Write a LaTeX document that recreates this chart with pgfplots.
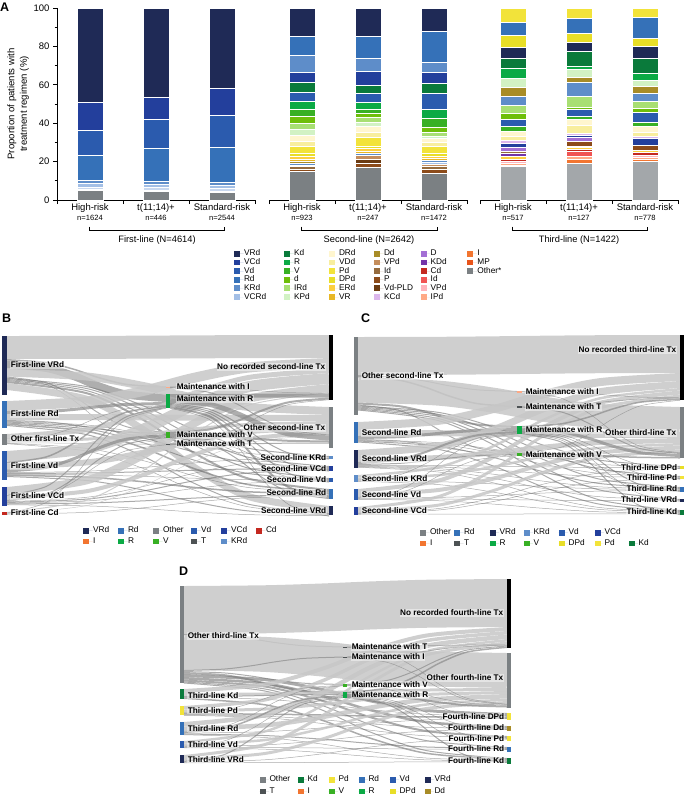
\documentclass[border=0pt]{standalone}
\usepackage{fontspec}
\setmainfont{Liberation Sans}
\usepackage{pgfplots}
\pgfplotsset{compat=1.18}
\definecolor{cVRd}{HTML}{1F2A56}
\definecolor{cVCd}{HTML}{233F9C}
\definecolor{cVd}{HTML}{2B5BAE}
\definecolor{cRd}{HTML}{3571B8}
\definecolor{cKRd}{HTML}{5E8DC9}
\definecolor{cVCRd}{HTML}{A3BFE6}
\definecolor{cKd}{HTML}{0A7A3B}
\definecolor{cR}{HTML}{0BAA45}
\definecolor{cV}{HTML}{38B024}
\definecolor{cd}{HTML}{6EBE0A}
\definecolor{cIRd}{HTML}{A8DF73}
\definecolor{cKPd}{HTML}{D2F2C4}
\definecolor{cDRd}{HTML}{FFF6CF}
\definecolor{cVDd}{HTML}{F8EE9E}
\definecolor{cPd}{HTML}{F2E33A}
\definecolor{cDPd}{HTML}{E8DE27}
\definecolor{cERd}{HTML}{FCCF40}
\definecolor{cVR}{HTML}{E8B725}
\definecolor{cDd}{HTML}{A88C27}
\definecolor{cVPdT}{HTML}{C48D5C}
\definecolor{cIdB}{HTML}{956B3E}
\definecolor{cP}{HTML}{8C4B1A}
\definecolor{cVdPLD}{HTML}{6B3B12}
\definecolor{cKCd}{HTML}{DCB7EC}
\definecolor{cD}{HTML}{A36FD4}
\definecolor{cKDd}{HTML}{7334A8}
\definecolor{cCd}{HTML}{C4281F}
\definecolor{cIdR}{HTML}{F05454}
\definecolor{cVPdP}{HTML}{FFB4BC}
\definecolor{cIPd}{HTML}{FFA985}
\definecolor{cI}{HTML}{F27530}
\definecolor{cMP}{HTML}{E8541A}
\definecolor{cOth}{HTML}{7B8083}
\definecolor{cOthL}{HTML}{A3A7AA}
\definecolor{cT}{HTML}{4D5254}
\definecolor{cLB}{HTML}{C9D8EF}

\newcommand\seg[3]{\addplot[ybar,bar width=26pt,bar shift=0pt,fill=#3,draw=white,line width=0.25pt] coordinates {(#1,#2)};}
\newcommand\lw[2]{\makebox[#1pt][l]{#2}}
\newcommand\leg[3]{\addlegendimage{fill=#1}\addlegendentry{\lw{#2}{#3}}}
\newcommand\legempty{\addlegendimage{empty legend}\addlegendentry{}}

% Sankey helpers
\newcommand\defnode[4]{%
  \expandafter\xdef\csname sxi#1\endcsname{#2}%
  \expandafter\xdef\csname sxo#1\endcsname{#3}%
  \expandafter\xdef\csname syi#1\endcsname{#4}%
  \expandafter\xdef\csname syo#1\endcsname{#4}}
\newcommand\flow[4][fL]{%
  \edef\srcx{\csname sxo#2\endcsname}\edef\srcy{\csname syo#2\endcsname}%
  \edef\dstx{\csname sxi#3\endcsname}\edef\dsty{\csname syi#3\endcsname}%
  \pgfmathsetmacro\fxa{\srcx}\pgfmathsetmacro\fya{\srcy+0.5*#4}%
  \pgfmathsetmacro\fxb{\dstx}\pgfmathsetmacro\fyb{\dsty+0.5*#4}%
  \pgfmathsetmacro\fdx{\fxb-\fxa}\pgfmathsetmacro\fdy{\fyb-\fya}%
  \pgfmathsetmacro\xB{\fxa+0.248*\fdx}\pgfmathsetmacro\yB{\fya+0.104*\fdy}%
  \pgfmathsetmacro\xC{\fxa+0.424*\fdx}\pgfmathsetmacro\yC{\fya+0.352*\fdy}%
  \pgfmathsetmacro\xD{\fxa+0.576*\fdx}\pgfmathsetmacro\yD{\fya+0.648*\fdy}%
  \pgfmathsetmacro\xE{\fxa+0.752*\fdx}\pgfmathsetmacro\yE{\fya+0.896*\fdy}%
  \pgfmathsetmacro\tmpa{\srcy+#4}\expandafter\xdef\csname syo#2\endcsname{\tmpa}%
  \pgfmathsetmacro\tmpb{\dsty+#4}\expandafter\xdef\csname syi#3\endcsname{\tmpb}%
  \edef\flowcmd{\noexpand\addplot[\unexpanded{#1},line width=#4pt] coordinates {(\fxa,\fya) (\xB,\yB) (\xC,\yC) (\xD,\yD) (\xE,\yE) (\fxb,\fyb)};}%
  \flowcmd}
\newcommand\nbar[5]{\addplot[no markers,line width=#5pt,color=#4] coordinates {(#1,#2) (#1,#3)};}

\pgfplotsset{
  fL/.style={no markers,smooth,color=black!22,opacity=0.85,line cap=butt},
  fM/.style={no markers,smooth,color=black!45,opacity=0.7,line cap=butt},
  fD/.style={no markers,smooth,color=black!55,opacity=0.6,line cap=butt},
  legsq/.style={legend image code/.code={\fill[draw=none,##1] (0pt,-2.9pt) rectangle (6pt,2.9pt); \path[draw=none] (0pt,0pt) -- (9.5pt,0pt);}},
  legax/.style={anchor=north west, hide axis, scale only axis, width=5pt, height=5pt,
    xmin=0,xmax=1,ymin=0,ymax=1, legsq, legend cell align=left,
    legend style={at={(0,1)}, anchor=north west, draw=none, fill=none, inner sep=0pt, outer sep=0pt,
      font=\fontsize{8.3}{8.5}\selectfont,
      nodes={inner xsep=0.5pt, inner ysep=0pt, text height=5.9pt, text depth=1.6pt},
      /tikz/every even column/.append style={column sep=0pt}}},
  grpA/.style={anchor=south west, scale only axis, width=198pt, height=192pt,
    xmin=-0.5, xmax=2.5, ymin=0, ymax=100, enlargelimits=false, clip=false,
    axis x line*=bottom, axis line style={line width=0.7pt,-},
    xtick={-0.5,0.5,1.5,2.5}, xticklabels={},
    extra x ticks={0,1,2},
    extra x tick style={major tick length=0pt, tick label style={align=center}},
    tick align=outside, major tick length=4pt, minor tick length=2.5pt,
    tick style={line width=0.7pt, black},
    tick label style={font=\fontsize{9.5}{10}\selectfont},
    /pgf/number format/assume math mode=true},
}
\tikzset{lab/.style={font=\bfseries\fontsize{8.2}{8.5}\selectfont, inner sep=0.6pt, fill=white, fill opacity=0.45, text opacity=1}}
\newcommand\nlab{\fontsize{7.6}{8}\selectfont}

\begin{document}
\begin{tikzpicture}
\useasboundingbox (0pt,0pt) rectangle (685pt,-794pt);

% ---------------- Panel A: group 1 ----------------
\begin{axis}[grpA, at={(57pt,-200pt)}, axis y line*=left,
  extra x tick labels={{High-risk\\[0.5pt]\nlab n=1624},{t(11;14)+\\[0.5pt]\nlab n=446},{Standard-risk\\[0.5pt]\nlab n=2544}},
  ytick={0,20,...,100}, minor y tick num=1,
  ylabel={Proportion of patients with\\treatment regimen (\%)},
  ylabel style={align=center, font=\fontsize{9.6}{12.5}\selectfont, yshift=-2pt}]
\seg{0}{100}{cVRd}\seg{0}{50.9}{cVCd}\seg{0}{36.5}{cVd}\seg{0}{23.4}{cRd}\seg{0}{10.4}{cKRd}\seg{0}{8.7}{cVCRd}\seg{0}{6.9}{cLB}\seg{0}{5.6}{cDRd}\seg{0}{4.9}{cOth}
\seg{1}{100}{cVRd}\seg{1}{53.8}{cVCd}\seg{1}{42.2}{cVd}\seg{1}{26.9}{cRd}\seg{1}{9.9}{cKRd}\seg{1}{8.2}{cVCRd}\seg{1}{6.6}{cLB}\seg{1}{5.2}{cDRd}\seg{1}{4.8}{cOth}
\seg{2}{100}{cVRd}\seg{2}{58.2}{cVCd}\seg{2}{44.3}{cVd}\seg{2}{27.3}{cRd}\seg{2}{9.5}{cKRd}\seg{2}{8.0}{cVCRd}\seg{2}{6.3}{cLB}\seg{2}{4.8}{cDRd}\seg{2}{4.3}{cOth}
\end{axis}

% ---------------- Panel A: group 2 ----------------
\begin{axis}[grpA, at={(269pt,-200pt)}, axis y line=none, ytick=\empty,
  extra x tick labels={{High-risk\\[0.5pt]\nlab n=923},{t(11;14)+\\[0.5pt]\nlab n=247},{Standard-risk\\[0.5pt]\nlab n=1472}}]
\seg{0}{100}{cVRd}\seg{0}{85.6}{cRd}\seg{0}{75.5}{cKRd}\seg{0}{66.8}{cVCd}\seg{0}{61.3}{cKd}\seg{0}{56.4}{cVd}\seg{0}{51.6}{cR}\seg{0}{47.2}{cV}\seg{0}{43.75}{cd}\seg{0}{39.9}{cIRd}\seg{0}{36.8}{cKPd}\seg{0}{33.9}{cDRd}\seg{0}{30.9}{cVDd}\seg{0}{27.8}{cPd}\seg{0}{24.6}{cDPd}\seg{0}{22.6}{cERd}\seg{0}{21.2}{cVR}\seg{0}{20.1}{cDd}\seg{0}{19.4}{cKRd}\seg{0}{18.4}{cVPdT}\seg{0}{17.4}{cIdB}\seg{0}{16.0}{cP}\seg{0}{14.8}{cOth}
\seg{1}{100}{cVRd}\seg{1}{85.4}{cRd}\seg{1}{73.8}{cKRd}\seg{1}{67.2}{cVCd}\seg{1}{59.9}{cKd}\seg{1}{55.6}{cVd}\seg{1}{51.2}{cR}\seg{1}{47.4}{cV}\seg{1}{45.5}{cd}\seg{1}{43.1}{cIRd}\seg{1}{40.3}{cKPd}\seg{1}{38.7}{cDRd}\seg{1}{35.6}{cVDd}\seg{1}{33.0}{cPd}\seg{1}{28.3}{cDPd}\seg{1}{26.9}{cERd}\seg{1}{25.2}{cVR}\seg{1}{24.3}{cKRd}\seg{1}{23.3}{cVPdT}\seg{1}{21.2}{cVdPLD}\seg{1}{19.4}{cP}\seg{1}{17.0}{cOth}
\seg{2}{100}{cVRd}\seg{2}{87.7}{cRd}\seg{2}{72.0}{cKRd}\seg{2}{66.8}{cVCd}\seg{2}{60.8}{cKd}\seg{2}{55.9}{cVd}\seg{2}{47.2}{cR}\seg{2}{42.5}{cV}\seg{2}{37.7}{cd}\seg{2}{35.2}{cIRd}\seg{2}{33.5}{cKPd}\seg{2}{32.1}{cDRd}\seg{2}{30.4}{cVDd}\seg{2}{27.8}{cPd}\seg{2}{24.6}{cDPd}\seg{2}{22.9}{cERd}\seg{2}{21.7}{cVR}\seg{2}{20.8}{cKRd}\seg{2}{19.6}{cVCRd}\seg{2}{18.5}{cVPdT}\seg{2}{17.4}{cIdB}\seg{2}{16.2}{cP}\seg{2}{14.0}{cOth}
\end{axis}

% ---------------- Panel A: group 3 ----------------
\begin{axis}[grpA, at={(480pt,-200pt)}, axis y line=none, ytick=\empty,
  extra x tick labels={{High-risk\\[0.5pt]\nlab n=517},{t(11;14)+\\[0.5pt]\nlab n=127},{Standard-risk\\[0.5pt]\nlab n=778}}]
\seg{0}{100}{cPd}\seg{0}{92.9}{cRd}\seg{0}{85.9}{cDPd}\seg{0}{79.7}{cVRd}\seg{0}{73.8}{cKd}\seg{0}{68.6}{cR}\seg{0}{63.4}{cKPd}\seg{0}{59.0}{cDd}\seg{0}{54.2}{cKRd}\seg{0}{49.5}{cIRd}\seg{0}{45.5}{cd}\seg{0}{42.2}{cVd}\seg{0}{38.5}{cV}\seg{0}{36.1}{cDRd}\seg{0}{33.5}{cVDd}\seg{0}{31.25}{cKCd}\seg{0}{29.5}{cVCd}\seg{0}{27.3}{cD}\seg{0}{25.7}{cIdB}\seg{0}{24.3}{cKDd}\seg{0}{22.6}{cERd}\seg{0}{21.5}{cCd}\seg{0}{20.5}{cVPdP}\seg{0}{19.4}{cIPd}\seg{0}{18.4}{cI}\seg{0}{17.4}{cOthL}
\seg{1}{100}{cPd}\seg{1}{94.6}{cRd}\seg{1}{86.8}{cDPd}\seg{1}{82.1}{cVRd}\seg{1}{77.6}{cKd}\seg{1}{69.8}{cR}\seg{1}{68.0}{cKPd}\seg{1}{64.2}{cDd}\seg{1}{61.6}{cKRd}\seg{1}{54.2}{cIRd}\seg{1}{48.3}{cd}\seg{1}{47.4}{cVd}\seg{1}{43.75}{cV}\seg{1}{42.2}{cDRd}\seg{1}{39.1}{cVDd}\seg{1}{34.7}{cKCd}\seg{1}{33.9}{cVCd}\seg{1}{32.5}{cD}\seg{1}{30.7}{cP}\seg{1}{28.1}{cKDd}\seg{1}{27.3}{cERd}\seg{1}{26.4}{cCd}\seg{1}{25.5}{cIdR}\seg{1}{22.6}{cIPd}\seg{1}{21.2}{cI}\seg{1}{19.4}{cOthL}
\seg{2}{100}{cPd}\seg{2}{95.5}{cRd}\seg{2}{84.5}{cDPd}\seg{2}{80.2}{cVRd}\seg{2}{74.1}{cKd}\seg{2}{66.0}{cR}\seg{2}{62.5}{cKPd}\seg{2}{59.5}{cDd}\seg{2}{55.6}{cKRd}\seg{2}{51.7}{cIRd}\seg{2}{48.1}{cd}\seg{2}{45.7}{cVd}\seg{2}{40.8}{cV}\seg{2}{38.5}{cDRd}\seg{2}{35.6}{cVDd}\seg{2}{33.3}{cKCd}\seg{2}{32.1}{cVCd}\seg{2}{28.6}{cP}\seg{2}{26.0}{cERd}\seg{2}{24.8}{cCd}\seg{2}{23.4}{cVPdP}\seg{2}{22.2}{cIPd}\seg{2}{21.4}{cI}\seg{2}{20.0}{cOthL}
\end{axis}

% ---------------- Legend A ----------------
\begin{axis}[legax, at={(234pt,-250pt)}, legend columns=6, legend style={row sep=1.15pt}]
\leg{cVRd}{39.5}{VRd}\leg{cKd}{34.5}{Kd}\leg{cDRd}{34.5}{DRd}\leg{cDd}{36.2}{Dd}\leg{cD}{36.2}{D}\leg{cI}{30}{I}
\leg{cVCd}{39.5}{VCd}\leg{cR}{34.5}{R}\leg{cVDd}{34.5}{VDd}\leg{cVPdT}{36.2}{VPd}\leg{cKDd}{36.2}{KDd}\leg{cMP}{30}{MP}
\leg{cVd}{39.5}{Vd}\leg{cV}{34.5}{V}\leg{cPd}{34.5}{Pd}\leg{cIdB}{36.2}{Id}\leg{cCd}{36.2}{Cd}\leg{cOth}{30}{Other*}
\leg{cRd}{39.5}{Rd}\leg{cd}{34.5}{d}\leg{cDPd}{34.5}{DPd}\leg{cP}{36.2}{P}\leg{cIdR}{36.2}{Id}\legempty
\leg{cKRd}{39.5}{KRd}\leg{cIRd}{34.5}{IRd}\leg{cERd}{34.5}{ERd}\leg{cVdPLD}{36.2}{Vd-PLD}\leg{cVPdP}{36.2}{VPd}\legempty
\leg{cVCRd}{39.5}{VCRd}\leg{cKPd}{34.5}{KPd}\leg{cVR}{34.5}{VR}\leg{cKCd}{36.2}{KCd}\leg{cIPd}{36.2}{IPd}
\end{axis}

% ---------------- Legend B ----------------
\begin{axis}[legax, at={(83pt,-527pt)}, legend columns=6, legend style={row sep=3.3pt}]
\leg{cVRd}{24.5}{VRd}\leg{cRd}{24.5}{Rd}\leg{cOth}{27.5}{Other}\leg{cVd}{19.5}{Vd}\leg{cVCd}{24.5}{VCd}\leg{cCd}{20}{Cd}
\leg{cI}{24.5}{I}\leg{cR}{24.5}{R}\leg{cV}{27.5}{V}\leg{cT}{19.5}{T}\leg{cKRd}{24.5}{KRd}
\end{axis}

% ---------------- Legend C ----------------
\begin{axis}[legax, at={(420pt,-529pt)}, legend columns=7, legend style={row sep=3.3pt}]
\leg{cOth}{23.5}{Other}\leg{cRd}{25}{Rd}\leg{cVRd}{23.5}{VRd}\leg{cKRd}{24.5}{KRd}\leg{cVd}{25.5}{Vd}\leg{cVCd}{23.5}{VCd}\legempty
\leg{cI}{23.5}{I}\leg{cT}{25}{T}\leg{cR}{23.5}{R}\leg{cV}{24.5}{V}\leg{cDPd}{25.5}{DPd}\leg{cPd}{23.5}{Pd}\leg{cKd}{20}{Kd}
\end{axis}

% ---------------- Legend D ----------------
\begin{axis}[legax, at={(259.5pt,-776pt)}, legend columns=6, legend style={row sep=4.2pt}]
\leg{cOth}{27.5}{Other}\leg{cKd}{20.5}{Kd}\leg{cPd}{19.5}{Pd}\leg{cRd}{20.5}{Rd}\leg{cVd}{24.5}{Vd}\leg{cVRd}{20}{VRd}
\leg{cT}{27.5}{T}\leg{cI}{20.5}{I}\leg{cV}{19.5}{V}\leg{cR}{20.5}{R}\leg{cDPd}{24.5}{DPd}\leg{cDd}{20}{Dd}
\end{axis}

% ---------------- Canvas: panels B, C, D and annotations ----------------
\begin{axis}[at={(0pt,0pt)}, anchor=north west, scale only axis, x=1pt, y=1pt,
  xmin=0, xmax=685, ymin=0, ymax=794, y dir=reverse, hide axis, clip=false]

% ===== Panel B =====
\defnode{bL1}{0}{7}{336}\defnode{bL2}{0}{7}{401}\defnode{bL3}{0}{7}{434}
\defnode{bL4}{0}{7}{451}\defnode{bL5}{0}{7}{487}\defnode{bL6}{0}{7}{512}
\defnode{bMI}{166}{170}{386.5}\defnode{bMR}{166}{170}{394}\defnode{bMV}{166}{170}{432}\defnode{bMT}{166}{170}{443.5}
\defnode{bRN}{329}{333}{335}\defnode{bRO}{329}{333}{407}\defnode{bRK}{329}{333}{456}\defnode{bRC}{329}{333}{466}
\defnode{bRV}{329}{333}{478}\defnode{bRR}{329}{333}{489}\defnode{bRW}{329}{333}{506}
\flow{bL1}{bRN}{23}\flow[fM]{bL1}{bMI}{1.5}\flow[fM]{bL1}{bMR}{8}\flow{bL1}{bRO}{8}\flow[fM]{bL1}{bMV}{1}\flow[fM]{bL1}{bMT}{0.5}
\flow[fD]{bL1}{bRK}{1}\flow[fD]{bL1}{bRC}{1}\flow[fD]{bL1}{bRV}{1}\flow[fD]{bL1}{bRR}{2}\flow{bL1}{bRW}{7}
\flow{bL2}{bRN}{10}\flow[fM]{bL2}{bMR}{3}\flow{bL2}{bRO}{6}\flow[fM]{bL2}{bMV}{1}\flow[fD]{bL2}{bRK}{0.5}\flow[fD]{bL2}{bRC}{1}\flow[fD]{bL2}{bRV}{1}\flow[fD]{bL2}{bRR}{1.5}\flow[fD]{bL2}{bRW}{1}
\flow{bL3}{bRN}{5}\flow[fM]{bL3}{bMR}{0.5}\flow{bL3}{bRO}{3}\flow[fM]{bL3}{bMT}{0.5}\flow[fD]{bL3}{bRR}{0.5}\flow[fD]{bL3}{bRW}{0.5}
\flow{bL4}{bRN}{11}\flow[fM]{bL4}{bMR}{1.5}\flow{bL4}{bRO}{6}\flow[fM]{bL4}{bMV}{3}\flow[fD]{bL4}{bRK}{0.5}\flow[fD]{bL4}{bRC}{1}\flow[fD]{bL4}{bRV}{0.5}\flow[fD]{bL4}{bRR}{1.5}\flow[fD]{bL4}{bRW}{1}
\flow{bL5}{bRN}{8}\flow[fM]{bL5}{bMR}{1}\flow{bL5}{bRO}{4}\flow[fM]{bL5}{bMV}{1}\flow[fM]{bL5}{bMT}{0.5}\flow[fD]{bL5}{bRK}{0.5}\flow[fD]{bL5}{bRC}{1}\flow[fD]{bL5}{bRV}{0.5}\flow[fD]{bL5}{bRR}{1}\flow[fD]{bL5}{bRW}{0.5}
\flow{bL6}{bRN}{1}\flow[fM]{bL6}{bMR}{0.5}\flow{bL6}{bRO}{0.5}\flow[fD]{bL6}{bRR}{0.5}
\flow[fM]{bMI}{bRN}{0.5}\flow[fM]{bMI}{bRO}{1}
\flow[fM]{bMR}{bRN}{4}\flow[fM]{bMR}{bRO}{5}\flow[fD]{bMR}{bRK}{1}\flow[fD]{bMR}{bRC}{1}\flow[fD]{bMR}{bRV}{1}\flow[fD]{bMR}{bRR}{2}\flow[fD]{bMR}{bRW}{0.5}
\flow[fM]{bMV}{bRN}{2}\flow[fM]{bMV}{bRO}{2}\flow[fD]{bMV}{bRC}{0.5}\flow[fD]{bMV}{bRV}{0.5}\flow[fD]{bMV}{bRR}{1}
\flow[fM]{bMT}{bRN}{0.5}\flow[fM]{bMT}{bRO}{1}
\nbar{4.5}{336}{395}{cVRd}{5}\nbar{4.5}{401}{428}{cRd}{5}\nbar{4.5}{434}{445}{cOth}{5}
\nbar{4.5}{451}{480}{cVd}{5}\nbar{4.5}{487}{506}{cVCd}{5}\nbar{4.5}{512}{514.5}{cCd}{5}
\nbar{168}{386.5}{388}{cIPd}{4}\nbar{168}{394}{408}{cR}{4}\nbar{168}{432}{438}{cV}{4}\nbar{168}{443.5}{445}{cT}{4}
\nbar{331}{335}{400}{black}{4}\nbar{331}{407}{448}{cOth}{4}\nbar{331}{456}{459}{cKRd}{4}\nbar{331}{466}{471}{cVCd}{4}
\nbar{331}{478}{482}{cVd}{4}\nbar{331}{489}{499}{cRd}{4}\nbar{331}{506}{515}{cVRd}{4}

% ===== Panel C =====
\defnode{cL1}{354}{358}{337}\defnode{cL2}{354}{358}{422}\defnode{cL3}{354}{358}{450}
\defnode{cL4}{354}{358}{475}\defnode{cL5}{354}{358}{489}\defnode{cL6}{354}{358}{507}
\defnode{cMI}{517}{521.5}{391}\defnode{cMT}{517}{521.5}{406}\defnode{cMR}{517}{521.5}{426}\defnode{cMV}{517}{521.5}{452.5}
\defnode{cRN}{680}{684}{335}\defnode{cRO}{680}{684}{407}\defnode{cRA}{680}{684}{466}\defnode{cRP}{680}{684}{476}
\defnode{cRR}{680}{684}{487}\defnode{cRW}{680}{684}{499}\defnode{cRK}{680}{684}{510}
\flow{cL1}{cRN}{38}\flow[fM]{cL1}{cMI}{1}\flow[fM]{cL1}{cMT}{1.5}\flow{cL1}{cRO}{25}\flow[fM]{cL1}{cMR}{2}\flow[fM]{cL1}{cMV}{1}
\flow[fD]{cL1}{cRA}{1}\flow[fD]{cL1}{cRP}{1}\flow[fD]{cL1}{cRR}{1}\flow[fD]{cL1}{cRW}{1}\flow[fD]{cL1}{cRK}{1}
\flow{cL2}{cRN}{8}\flow{cL2}{cRO}{6}\flow[fM]{cL2}{cMR}{3}\flow[fM]{cL2}{cMV}{0.5}\flow[fD]{cL2}{cRA}{0.5}\flow[fD]{cL2}{cRP}{0.5}\flow[fD]{cL2}{cRR}{1}\flow[fD]{cL2}{cRK}{1}
\flow{cL3}{cRN}{7}\flow{cL3}{cRO}{5}\flow[fM]{cL3}{cMR}{2}\flow[fM]{cL3}{cMV}{1}\flow[fD]{cL3}{cRA}{0.5}\flow[fD]{cL3}{cRP}{0.5}\flow[fD]{cL3}{cRR}{0.5}\flow[fD]{cL3}{cRW}{0.5}\flow[fD]{cL3}{cRK}{0.5}
\flow{cL4}{cRN}{2.5}\flow{cL4}{cRO}{2.5}\flow[fM]{cL4}{cMR}{0.5}\flow[fD]{cL4}{cRR}{0.5}\flow[fD]{cL4}{cRK}{0.5}
\flow{cL5}{cRN}{4}\flow{cL5}{cRO}{4}\flow[fM]{cL5}{cMR}{0.5}\flow[fM]{cL5}{cMV}{0.5}\flow[fD]{cL5}{cRR}{0.5}\flow[fD]{cL5}{cRW}{0.5}\flow[fD]{cL5}{cRK}{0.5}
\flow{cL6}{cRN}{3}\flow{cL6}{cRO}{3}\flow[fD]{cL6}{cRA}{0.5}\flow[fD]{cL6}{cRP}{0.5}\flow[fD]{cL6}{cRK}{0.5}
\flow[fM]{cMI}{cRN}{0.5}\flow[fM]{cMI}{cRO}{0.5}
\flow[fM]{cMT}{cRN}{0.5}\flow[fM]{cMT}{cRO}{1}
\flow[fM]{cMR}{cRN}{1.5}\flow[fM]{cMR}{cRO}{3}\flow[fD]{cMR}{cRA}{0.5}\flow[fD]{cMR}{cRP}{0.5}\flow[fD]{cMR}{cRR}{1}\flow[fD]{cMR}{cRW}{0.5}\flow[fD]{cMR}{cRK}{1}
\flow[fM]{cMV}{cRN}{0.5}\flow[fM]{cMV}{cRO}{1.5}\flow[fD]{cMV}{cRP}{0.5}\flow[fD]{cMV}{cRR}{0.5}
\nbar{356}{337}{415}{cOth}{4}\nbar{356}{422}{443}{cRd}{4}\nbar{356}{450}{468}{cVRd}{4}
\nbar{356}{475}{482}{cKRd}{4}\nbar{356}{489}{500}{cVd}{4}\nbar{356}{507}{515}{cVCd}{4}
\nbar{519.3}{391}{392.5}{cIPd}{4.5}\nbar{519.3}{406}{407.5}{cT}{4.5}\nbar{519.3}{426}{434}{cR}{4.5}\nbar{519.3}{452.5}{455.5}{cV}{4.5}
\nbar{682}{335}{400}{black}{4}\nbar{682}{407}{458}{cOth}{4}\nbar{682}{466}{469}{cDPd}{4}\nbar{682}{476}{479}{cPd}{4}
\nbar{682}{487}{492}{cRd}{4}\nbar{682}{499}{502}{cVRd}{4}\nbar{682}{510}{515}{cKd}{4}

% ===== Panel D =====
\defnode{dL1}{180}{184}{586}\defnode{dL2}{180}{184}{689}\defnode{dL3}{180}{184}{706}
\defnode{dL4}{180}{184}{722}\defnode{dL5}{180}{184}{741}\defnode{dL6}{180}{184}{755}
\defnode{dMT}{343}{347}{646.5}\defnode{dMI}{343}{347}{656.5}\defnode{dMV}{343}{347}{684}\defnode{dMR}{343}{347}{692}
\defnode{dRN}{507}{511}{579}\defnode{dRO}{507}{511}{653}\defnode{dRA}{507}{511}{713}\defnode{dRD}{507}{511}{726}
\defnode{dRP}{507}{511}{736}\defnode{dRR}{507}{511}{747}\defnode{dRK}{507}{511}{758}
\flow{dL1}{dRN}{48}\flow[fM]{dL1}{dMT}{1}\flow{dL1}{dRO}{35}\flow[fM]{dL1}{dMI}{1}\flow[fM]{dL1}{dMV}{1}\flow[fM]{dL1}{dMR}{2}
\flow[fD]{dL1}{dRA}{3}\flow[fD]{dL1}{dRD}{2.5}\flow[fD]{dL1}{dRP}{2}\flow[fD]{dL1}{dRR}{1}\flow[fD]{dL1}{dRK}{1}
\flow{dL2}{dRN}{4}\flow{dL2}{dRO}{3}\flow[fM]{dL2}{dMR}{1}\flow[fD]{dL2}{dRA}{0.5}\flow[fD]{dL2}{dRK}{1.5}
\flow{dL3}{dRN}{3.5}\flow{dL3}{dRO}{3}\flow[fM]{dL3}{dMV}{0.5}\flow[fD]{dL3}{dRA}{1.5}\flow[fD]{dL3}{dRD}{0.5}\flow[fD]{dL3}{dRP}{0.5}
\flow{dL4}{dRN}{4.5}\flow{dL4}{dRO}{4.5}\flow[fM]{dL4}{dMV}{0.5}\flow[fM]{dL4}{dMR}{1.5}\flow[fD]{dL4}{dRA}{0.5}\flow[fD]{dL4}{dRR}{1}\flow[fD]{dL4}{dRK}{0.5}
\flow{dL5}{dRN}{2.5}\flow{dL5}{dRO}{2.5}\flow[fM]{dL5}{dMR}{0.5}\flow[fD]{dL5}{dRD}{0.5}\flow[fD]{dL5}{dRR}{0.5}\flow[fD]{dL5}{dRK}{0.5}
\flow{dL6}{dRN}{3}\flow{dL6}{dRO}{3}\flow[fM]{dL6}{dMR}{1}\flow[fD]{dL6}{dRP}{0.5}\flow[fD]{dL6}{dRK}{0.5}
\flow[fM]{dMT}{dRN}{0.5}\flow[fM]{dMT}{dRO}{0.5}
\flow[fM]{dMI}{dRN}{0.5}\flow[fM]{dMI}{dRO}{0.5}
\flow[fM]{dMV}{dRN}{1}\flow[fM]{dMV}{dRO}{0.5}\flow[fD]{dMV}{dRA}{0.5}
\flow[fM]{dMR}{dRN}{1.5}\flow[fM]{dMR}{dRO}{2}\flow[fD]{dMR}{dRD}{0.5}\flow[fD]{dMR}{dRP}{0.5}\flow[fD]{dMR}{dRR}{0.5}\flow[fD]{dMR}{dRK}{1}
\nbar{182}{586}{683}{cOth}{4}\nbar{182}{689}{699}{cKd}{4}\nbar{182}{706}{715}{cPd}{4}
\nbar{182}{722}{735}{cRd}{4}\nbar{182}{741}{748}{cVd}{4}\nbar{182}{755}{763}{cVRd}{4}
\nbar{345}{646.5}{647.5}{cT}{4.5}\nbar{345}{656.5}{657.5}{cT}{4.5}\nbar{345}{684}{687}{cV}{4.5}\nbar{345}{692}{698}{cR}{4.5}
\nbar{509}{579}{648}{black}{4.5}\nbar{509}{653}{708}{cOth}{4.5}\nbar{509}{713}{720}{cPd}{4.5}\nbar{509}{726}{731}{cDd}{4.5}
\nbar{509}{736}{741}{cPd}{4.5}\nbar{509}{747}{752}{cRd}{4.5}\nbar{509}{758}{764}{cKd}{4.5}

% ===== Labels =====
\node[lab,anchor=west] at (axis cs:10,365) {First-line VRd};
\node[lab,anchor=west] at (axis cs:10,414) {First-line Rd};
\node[lab,anchor=west] at (axis cs:10,439) {Other first-line Tx};
\node[lab,anchor=west] at (axis cs:10,466) {First-line Vd};
\node[lab,anchor=west] at (axis cs:10,496) {First-line VCd};
\node[lab,anchor=west] at (axis cs:10,513) {First-line Cd};
\node[lab,anchor=west] at (axis cs:176,387) {Maintenance with I};
\node[lab,anchor=west] at (axis cs:176,399) {Maintenance with R};
\node[lab,anchor=west] at (axis cs:176,435) {Maintenance with V};
\node[lab,anchor=west] at (axis cs:176,444) {Maintenance with T};
\node[lab,anchor=east] at (axis cs:326,367) {No recorded second-line Tx};
\node[lab,anchor=east] at (axis cs:326,428) {Other second-line Tx};
\node[lab,anchor=east] at (axis cs:327,457.5) {Second-line KRd};
\node[lab,anchor=east] at (axis cs:327,468.5) {Second-line VCd};
\node[lab,anchor=east] at (axis cs:327,480) {Second-line Vd};
\node[lab,anchor=east] at (axis cs:327,493) {Second-line Rd};
\node[lab,anchor=east] at (axis cs:327,511) {Second-line VRd};

\node[lab,anchor=west] at (axis cs:361,376) {Other second-line Tx};
\node[lab,anchor=west] at (axis cs:361,433) {Second-line Rd};
\node[lab,anchor=west] at (axis cs:361,459) {Second-line VRd};
\node[lab,anchor=west] at (axis cs:361,478.5) {Second-line KRd};
\node[lab,anchor=west] at (axis cs:361,494.5) {Second-line Vd};
\node[lab,anchor=west] at (axis cs:361,511) {Second-line VCd};
\node[lab,anchor=west] at (axis cs:525,391.5) {Maintenance with I};
\node[lab,anchor=west] at (axis cs:525,407) {Maintenance with T};
\node[lab,anchor=west] at (axis cs:525,430) {Maintenance with R};
\node[lab,anchor=west] at (axis cs:525,454.5) {Maintenance with V};
\node[lab,anchor=east] at (axis cs:677,350) {No recorded third-line Tx};
\node[lab,anchor=east] at (axis cs:677,433) {Other third-line Tx};
\node[lab,anchor=east] at (axis cs:678,467.5) {Third-line DPd};
\node[lab,anchor=east] at (axis cs:678,477.5) {Third-line Pd};
\node[lab,anchor=east] at (axis cs:678,489) {Third-line Rd};
\node[lab,anchor=east] at (axis cs:678,500) {Third-line VRd};
\node[lab,anchor=east] at (axis cs:678,512) {Third-line Kd};

\node[lab,anchor=west] at (axis cs:187,636) {Other third-line Tx};
\node[lab,anchor=west] at (axis cs:187,695.5) {Third-line Kd};
\node[lab,anchor=west] at (axis cs:187,710.5) {Third-line Pd};
\node[lab,anchor=west] at (axis cs:187,728.5) {Third-line Rd};
\node[lab,anchor=west] at (axis cs:187,745) {Third-line Vd};
\node[lab,anchor=west] at (axis cs:187,760) {Third-line VRd};
\node[lab,anchor=west] at (axis cs:351,647) {Maintenance with T};
\node[lab,anchor=west] at (axis cs:351,657) {Maintenance with I};
\node[lab,anchor=west] at (axis cs:351,685) {Maintenance with V};
\node[lab,anchor=west] at (axis cs:351,695) {Maintenance with R};
\node[lab,anchor=east] at (axis cs:504,613) {No recorded fourth-line Tx};
\node[lab,anchor=east] at (axis cs:504,678) {Other fourth-line Tx};
\node[lab,anchor=east] at (axis cs:505,716.5) {Fourth-line DPd};
\node[lab,anchor=east] at (axis cs:505,728) {Fourth-line Dd};
\node[lab,anchor=east] at (axis cs:505,738.5) {Fourth-line Pd};
\node[lab,anchor=east] at (axis cs:505,749) {Fourth-line Rd};
\node[lab,anchor=east] at (axis cs:505,761) {Fourth-line Kd};

% Panel letters
\node[anchor=west,inner sep=0pt,font=\bfseries\fontsize{12.5}{13}\selectfont] at (axis cs:0,7.5) {A};
\node[anchor=west,inner sep=0pt,font=\bfseries\fontsize{12.5}{13}\selectfont] at (axis cs:2,318) {B};
\node[anchor=west,inner sep=0pt,font=\bfseries\fontsize{12.5}{13}\selectfont] at (axis cs:361,318) {C};
\node[anchor=west,inner sep=0pt,font=\bfseries\fontsize{12.5}{13}\selectfont] at (axis cs:179,571.5) {D};

% Panel A group brackets
\draw[line width=0.7pt] (axis cs:89,226.5) -- (axis cs:89,230) -- (axis cs:224,230) -- (axis cs:224,226.5);
\draw[line width=0.7pt] (axis cs:301,226.5) -- (axis cs:301,230) -- (axis cs:437,230) -- (axis cs:437,226.5);
\draw[line width=0.7pt] (axis cs:512,226.5) -- (axis cs:512,230) -- (axis cs:647,230) -- (axis cs:647,226.5);
\node[font=\fontsize{9.3}{10}\selectfont] at (axis cs:157,240) {First-line (N=4614)};
\node[font=\fontsize{9.3}{10}\selectfont] at (axis cs:369,240) {Second-line (N=2642)};
\node[font=\fontsize{9.3}{10}\selectfont] at (axis cs:579,240) {Third-line (N=1422)};
\end{axis}
\end{tikzpicture}
\end{document}
